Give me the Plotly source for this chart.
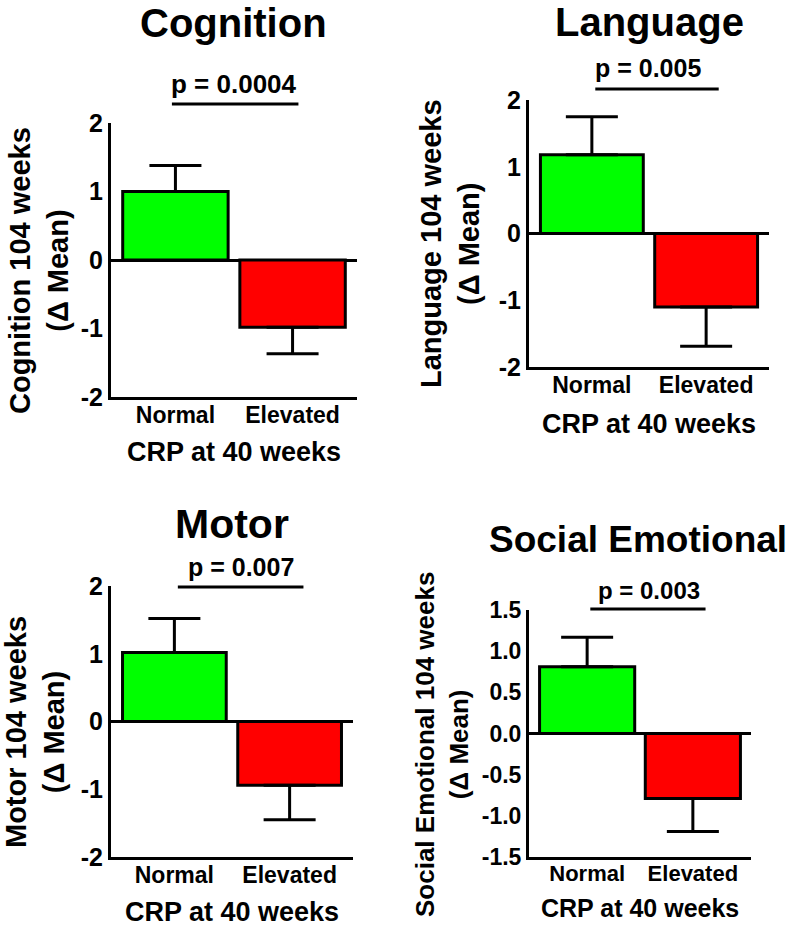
import plotly.graph_objects as go

# ---------------- data ----------------
categories = ["Normal", "Elevated"]

cognition_mean = [1.00, -0.98]
cognition_sem = [0.38, 0.39]
language_mean = [1.18, -1.10]
language_sem = [0.57, 0.59]
motor_mean = [1.02, -0.94]
motor_sem = [0.50, 0.51]
social_mean = [0.81, -0.79]
social_sem = [0.36, 0.40]

panel_titles = ["Cognition", "Language", "Motor", "Social Emotional"]
y_titles = ["Cognition 104 weeks<br>(\u0394 Mean)",
            "Language 104 weeks<br>(\u0394 Mean)",
            "Motor 104 weeks<br>(\u0394 Mean)",
            "Social Emotional 104 weeks<br>(\u0394 Mean)"]
p_labels = ["p = 0.0004", "p = 0.005", "p = 0.007", "p = 0.003"]
x_title = "CRP at 40 weeks"

int_ticks = [-2, -1, 0, 1, 2]
int_ticktext = ["-2", "-1", "0", "1", "2"]
social_ticks = [-1.5, -1.0, -0.5, 0.0, 0.5, 1.0, 1.5]
social_ticktext = ["-1.5", "-1.0", "-0.5", "0.0", "0.5", "1.0", "1.5"]

means = [cognition_mean, language_mean, motor_mean, social_mean]
sems = [cognition_sem, language_sem, motor_sem, social_sem]

# ---------------- layout constants ----------------
W, H = 788, 927
FONT = "Liberation Sans, Arial, Helvetica, sans-serif"
bar_colors = ["#00ff00", "#ff0000"]


def px(x):
    return x / W


def py(y):
    return 1 - y / H


# per-panel geometry in pixels
panels = [
    dict(x0=111, x1=357, ytop=123, ybot=397, yr=[-2, 2], tv=int_ticks, tt=int_ticktext,
         title_xy=(233, 23), title_fs=40, p_xy=(234, 84), p_fs=26, line_y=104, line_x=(-0.03, 1.05),
         yt_xy=(39, 271), yt_fs=29, xt_y=452, xt_fs=27, tick_fs=25, xtick_fs=23),
    dict(x0=529, x1=769, ytop=100, ybot=367, yr=[-2, 2], tv=int_ticks, tt=int_ticktext,
         title_xy=(649, 22), title_fs=40, p_xy=(648, 68), p_fs=25, line_y=89, line_x=(0.03, 1.11),
         yt_xy=(450, 244), yt_fs=29, xt_y=424, xt_fs=27, tick_fs=25, xtick_fs=23),
    dict(x0=111, x1=353, ytop=586, ybot=857, yr=[-2, 2], tv=int_ticks, tt=int_ticktext,
         title_xy=(232, 524), title_fs=41, p_xy=(241, 567), p_fs=25, line_y=587, line_x=(0.03, 1.12),
         yt_xy=(35, 732), yt_fs=29, xt_y=912, xt_fs=27, tick_fs=25, xtick_fs=23),
    dict(x0=529, x1=751, ytop=610, ybot=857, yr=[-1.5, 1.5], tv=social_ticks, tt=social_ticktext,
         title_xy=(638, 539), title_fs=37, p_xy=(649, 590), p_fs=24, line_y=609, line_x=(0.03, 1.12),
         yt_xy=(442, 744), yt_fs=26, xt_y=908, xt_fs=25, tick_fs=23, xtick_fs=22),
]

fig = go.Figure()
annotations = []
shapes = []

for i, (m, s, cfg) in enumerate(zip(means, sems, panels)):
    n = i + 1
    xa = "x" if n == 1 else f"x{n}"
    ya = "y" if n == 1 else f"y{n}"
    up = [e if v > 0 else 0 for v, e in zip(m, s)]
    down = [e if v < 0 else 0 for v, e in zip(m, s)]
    fig.add_trace(go.Bar(
        x=categories, y=m, xaxis=xa, yaxis=ya, width=0.9,
        marker=dict(color=bar_colors, line=dict(color="black", width=3)),
        error_y=dict(type="data", symmetric=False, array=up, arrayminus=down,
                     color="black", thickness=3, width=26),
        showlegend=False, hoverinfo="skip",
    ))
    axis_x = dict(
        domain=[px(cfg["x0"]), px(cfg["x1"])], anchor=ya, range=[-0.55, 1.55],
        showline=True, linewidth=3, linecolor="black", ticks="", showgrid=False,
        zeroline=False, automargin=False, ticklabelstandoff=-5,
        tickfont=dict(family=FONT, size=cfg["xtick_fs"], color="black", weight="bold"),
        fixedrange=True,
    )
    axis_y = dict(
        domain=[py(cfg["ybot"]), py(cfg["ytop"])], anchor=xa, range=cfg["yr"],
        tickvals=cfg["tv"], ticktext=cfg["tt"], automargin=False,
        showline=True, linewidth=3, linecolor="black", ticks="", showgrid=False,
        zeroline=True, zerolinewidth=3, zerolinecolor="black",
        tickfont=dict(family=FONT, size=cfg["tick_fs"], color="black", weight="bold"),
        fixedrange=True,
    )
    fig.update_layout(**{("xaxis" if n == 1 else f"xaxis{n}"): axis_x,
                         ("yaxis" if n == 1 else f"yaxis{n}"): axis_y})

    annotations.append(dict(text=panel_titles[i], xref="paper", yref="paper",
                            x=px(cfg["title_xy"][0]), y=py(cfg["title_xy"][1]),
                            xanchor="center", yanchor="middle", showarrow=False,
                            font=dict(family=FONT, size=cfg["title_fs"], color="black", weight="bold")))
    annotations.append(dict(text=p_labels[i], xref="paper", yref="paper",
                            x=px(cfg["p_xy"][0]), y=py(cfg["p_xy"][1]),
                            xanchor="center", yanchor="middle", showarrow=False,
                            font=dict(family=FONT, size=cfg["p_fs"], color="black", weight="bold")))
    annotations.append(dict(text=y_titles[i], xref="paper", yref="paper",
                            x=px(cfg["yt_xy"][0]), y=py(cfg["yt_xy"][1]),
                            xanchor="center", yanchor="middle", showarrow=False, textangle=-90,
                            font=dict(family=FONT, size=cfg["yt_fs"], color="black", weight="bold")))
    annotations.append(dict(text=x_title, xref="paper", yref="paper",
                            x=px((cfg["x0"] + cfg["x1"]) / 2), y=py(cfg["xt_y"]),
                            xanchor="center", yanchor="middle", showarrow=False,
                            font=dict(family=FONT, size=cfg["xt_fs"], color="black", weight="bold")))
    shapes.append(dict(type="line", xref=xa, yref="paper",
                       x0=cfg["line_x"][0], x1=cfg["line_x"][1],
                       y0=py(cfg["line_y"]), y1=py(cfg["line_y"]),
                       line=dict(color="black", width=3)))

fig.update_layout(
    template="none",
    width=W, height=H, margin=dict(l=0, r=0, t=0, b=0, pad=0),
    paper_bgcolor="white", plot_bgcolor="white",
    showlegend=False, annotations=annotations, shapes=shapes,
    font=dict(family=FONT, color="black"),
)

fig.write_html("out.html", config={"displayModeBar": False},
               post_script="document.body.style.margin='0';document.body.style.overflow='hidden';")
